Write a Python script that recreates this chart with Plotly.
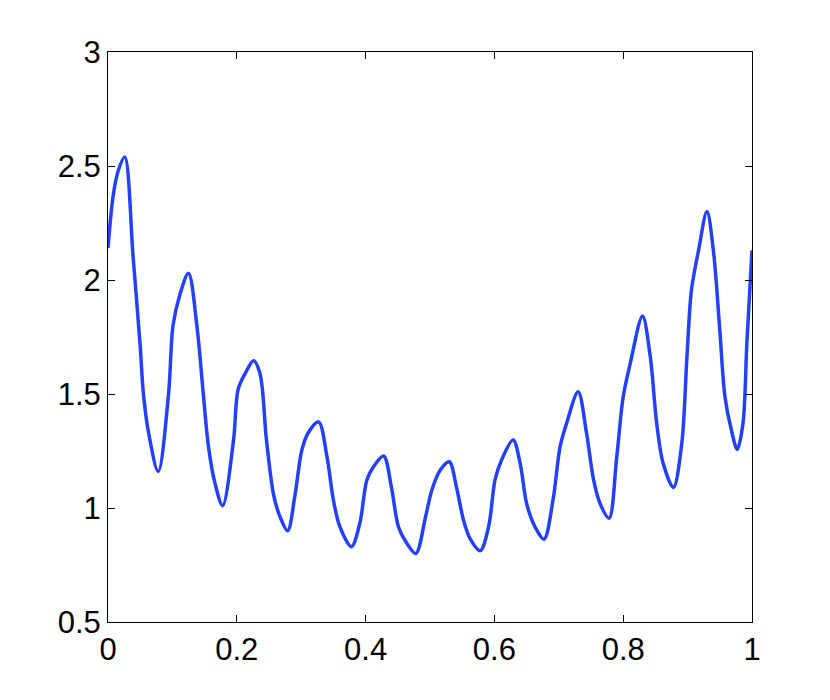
import plotly.graph_objects as go

# Curve samples
x_vals = [0.000, 0.008, 0.016, 0.026, 0.039, 0.050, 0.055, 0.063, 0.078,
          0.094, 0.101, 0.112, 0.125, 0.138, 0.148, 0.156, 0.166, 0.178,
          0.195, 0.202, 0.213, 0.226, 0.236, 0.246, 0.257, 0.267, 0.279,
          0.290, 0.301, 0.311, 0.327, 0.340, 0.350, 0.360, 0.378,
          0.391, 0.402, 0.412, 0.428, 0.440, 0.451, 0.464, 0.478,
          0.493, 0.503, 0.516, 0.530, 0.541, 0.552, 0.562, 0.578,
          0.591, 0.601, 0.611, 0.629, 0.640, 0.650, 0.663, 0.677,
          0.691, 0.702, 0.712, 0.730, 0.743, 0.754, 0.764, 0.778,
          0.790, 0.800, 0.811, 0.830, 0.842, 0.852, 0.862, 0.878,
          0.891, 0.899, 0.906, 0.917, 0.930, 0.940, 0.950, 0.958, 0.968, 0.977,
          0.986, 0.992, 1.000]
y_vals = [2.14, 2.37, 2.48, 2.54, 2.10, 1.71, 1.50, 1.33, 1.16,
          1.50, 1.80, 1.94, 2.03, 1.80, 1.50, 1.27, 1.11, 1.01,
          1.30, 1.52, 1.59, 1.646, 1.59, 1.30, 1.06, 0.962, 0.900,
          1.05, 1.254, 1.33, 1.378, 1.225, 1.035, 0.918, 0.830,
          0.933, 1.123, 1.18, 1.228, 1.093, 0.918, 0.845, 0.800,
          0.96, 1.08, 1.167, 1.203, 1.093, 0.947, 0.867, 0.813,
          0.918, 1.123, 1.21, 1.298, 1.196, 1.02, 0.918, 0.863,
          1.035, 1.269, 1.371, 1.51, 1.33, 1.123, 1.02, 0.955,
          1.225, 1.488, 1.635, 1.842, 1.664, 1.371, 1.196, 1.09,
          1.284, 1.664, 1.956, 2.13, 2.30, 2.13, 1.78, 1.488, 1.342, 1.257,
          1.371, 1.722, 2.13]

x_ticks = [0, 0.2, 0.4, 0.6, 0.8, 1]
y_ticks = [0.5, 1, 1.5, 2, 2.5, 3]

fig = go.Figure()
fig.add_trace(go.Scatter(
    x=x_vals, y=y_vals,
    mode="lines",
    line=dict(color="#2440ff", width=3.5, shape="spline", smoothing=0.9),
    showlegend=False,
))

axis_common = dict(
    showline=True, linecolor="black", linewidth=1, mirror="ticks",
    ticks="inside", ticklen=7, tickcolor="black", tickwidth=1,
    showgrid=False, zeroline=False,
    tickfont=dict(family="Liberation Sans, Arial, sans-serif", size=31, color="black"),
)

fig.update_xaxes(range=[0, 1], tickvals=x_ticks,
                 ticktext=[f"{v:g}" for v in x_ticks], **axis_common)
fig.update_yaxes(range=[0.5, 3], tickvals=y_ticks,
                 ticktext=[f"{v:g}" for v in y_ticks], **axis_common)

# page body adds 8px, so margins are shifted to land the box at 108..752 / 52..622
fig.update_layout(
    width=830, height=700,
    margin=dict(l=100, r=86, t=44, b=86),
    paper_bgcolor="white", plot_bgcolor="white",
)

fig.write_html("out.html")
